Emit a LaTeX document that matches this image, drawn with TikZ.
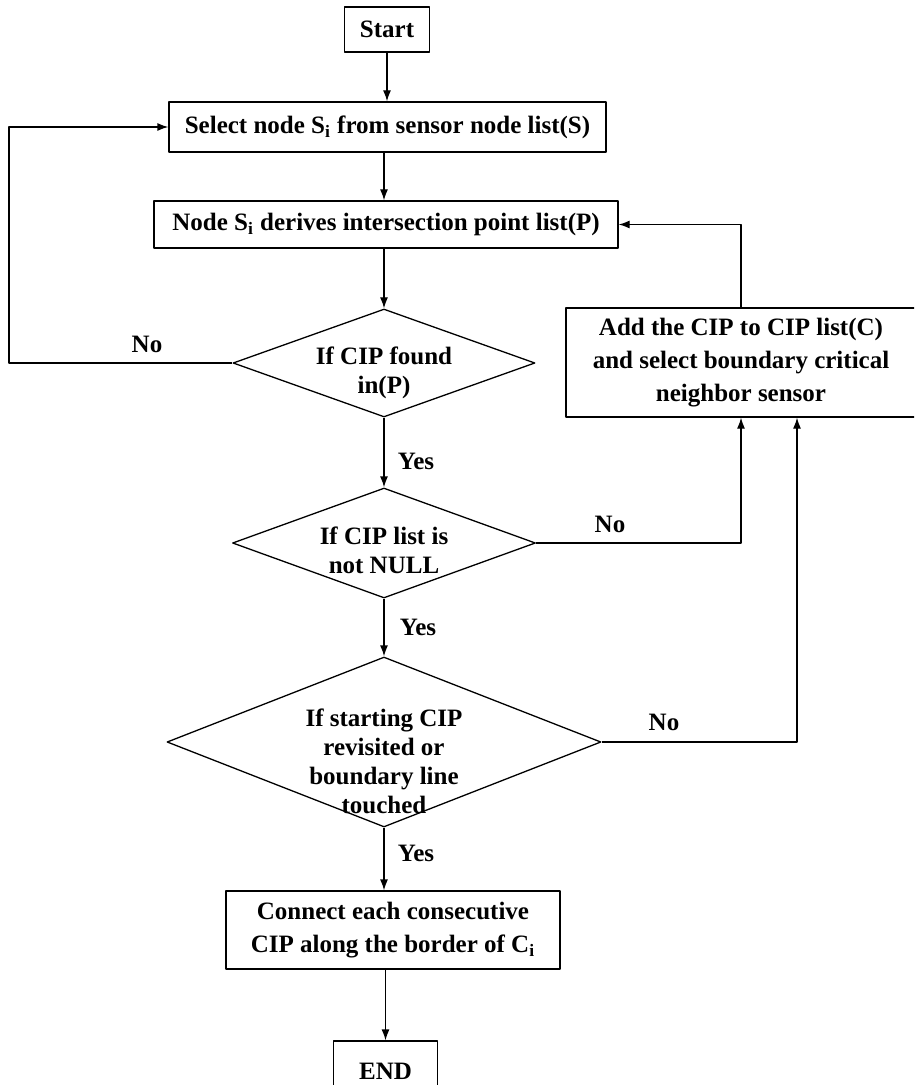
\documentclass[tikz,border=0pt]{standalone}
\usepackage{fontspec}
\setmainfont{Liberation Serif}
\usetikzlibrary{shapes.geometric,arrows.meta}
\tikzset{
  blk/.style={draw, align=center, inner sep=0pt, font=\bfseries\fontsize{12.5}{16.5}\selectfont},
  dia/.style={draw, diamond, inner sep=0pt},
  dtxt/.style={align=center, inner sep=0pt, font=\bfseries\fontsize{12.5}{14.5}\selectfont},
  lbl/.style={inner sep=0pt, font=\bfseries\fontsize{12.5}{14.5}\selectfont}
}
\begin{document}
\begin{tikzpicture}[x=.5pt, y=-.5pt, line width=.65pt, line join=round, >={Latex[length=5.5pt,width=4pt]}]
	\def\si{\textsubscript{i}}
	\useasboundingbox (0,0) rectangle (914,1085);
	\clip (0,0) rectangle (914,1085);
	% boxes
	\node[blk, minimum width=42.5pt, minimum height=22.5pt] (start) at (387,29.5) {Start};
	\node[blk, minimum width=218.5pt, minimum height=25pt] (sel) at (387.5,127) {Select node S\si{} from sensor node list(S)};
	\node[blk, minimum width=232pt, minimum height=23.5pt] (der) at (386,224.5) {Node S\si{} derives intersection point list(P)};
	\node[blk, minimum width=175pt, minimum height=54.5pt] (add) at (741,362.5) {Add the CIP to CIP list(C)\\and select boundary critical\\neighbor sensor};
	\node[blk, minimum width=167pt, minimum height=39pt] (con) at (393,930) {Connect each consecutive\\CIP along the border of C\si};
	\node[blk, minimum width=52pt, minimum height=30pt] (fin) at (385.5,1071) {END};
	% decisions
	\node[dia, minimum width=151pt, minimum height=54pt] (d1) at (384,363) {};
	\node[dia, minimum width=151.5pt, minimum height=55pt] (d2) at (384,543) {};
	\node[dia, minimum width=217pt, minimum height=85pt] (d3) at (384,742) {};
	\node[dtxt] (d1t) at (384,373) {If CIP found\\in(P)};
	\node[dtxt] (d2t) at (384,550) {If CIP list is\\not NULL};
	\node[dtxt] (d3t) at (384,761) {If starting CIP\\revisited or\\boundary line\\touched};
	% flow
	\coordinate (lft) at (9,363);
	\draw[->] (start) -- (start |- sel.north);
	\draw[->] (d1.north |- sel.south) -- (d1.north |- der.north);
	\draw[->] (d1.north |- der.south) -- (d1.north);
	\draw[->] (d1.south) -- (d2.north);
	\draw[->] (d2.south) -- (d3.north);
	\draw[->] (d3.south) -- (d3.south |- con.north);
	\draw[->] (fin.north |- con.south) -- (fin.north);
	\draw[->] (d1.west) -- (lft) |- (sel.west);
	\draw[->] (d2.east) -| (add.south);
	\draw[->] (d3.east) -| ([xshift=28pt]add.south);
	\draw[->] (add.north) |- (der.east);
	% labels
	\node[lbl] (no1) at (147,344) {No};
	\node[lbl] (no2) at (610,524) {No};
	\node[lbl] (no3) at (664,722) {No};
	\node[lbl] (yes1) at (416,461) {Yes};
	\node[lbl] (yes2) at (418,627) {Yes};
	\node[lbl] (yes3) at (416,853) {Yes};
\end{tikzpicture}
\end{document}
